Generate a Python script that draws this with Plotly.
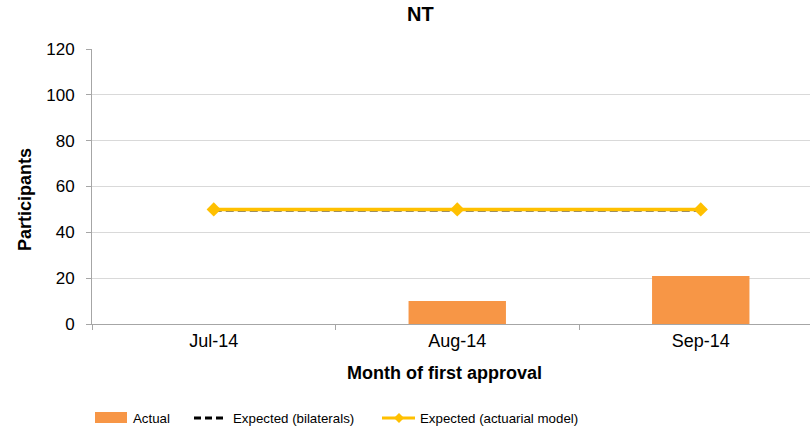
import plotly.graph_objects as go

# ---- data ----
months = ["Jul-14", "Aug-14", "Sep-14"]
actual = [0, 10, 21]
expected_bilaterals = [49.6, 49.6, 49.6]
expected_actuarial = [50, 50, 50]
y_ticks = [0, 20, 40, 60, 80, 100, 120]

# ---- layout geometry (pixels) ----
W, H = 810, 435
L, R, T, B = 92, 0, 49, 111
PW, PH = W - L - R, H - T - B
CAT_PX = 243.5  # width of one category band

FONT = "Liberation Sans, Arial, sans-serif"
ORANGE = "#F79646"
GOLD = "#FFC000"
AXIS_GREY = "#a6a6a6"
GRID_GREY = "#d9d9d9"


def px(x):
    return (x - L) / PW


def py(y):
    return (H - B - y) / PH


fig = go.Figure()

fig.add_trace(go.Bar(
    x=months, y=actual, name="Actual",
    marker=dict(color=ORANGE, line=dict(width=0)),
    width=0.4,
))
fig.add_trace(go.Scatter(
    x=months, y=expected_bilaterals, name="Expected (bilaterals)",
    mode="lines", line=dict(color="black", width=2.5, dash="8px,4px"),
))
fig.add_trace(go.Scatter(
    x=months, y=expected_actuarial, name="Expected (actuarial model)",
    mode="lines+markers",
    line=dict(color=GOLD, width=3.5),
    marker=dict(symbol="diamond", size=11, color=GOLD),
))

annotations = [
    dict(text="<b>NT</b>", x=px(420), y=py(14), xref="paper", yref="paper",
         showarrow=False, font=dict(size=20, color="black", family=FONT),
         xanchor="center", yanchor="middle"),
    dict(text="<b>Month of first approval</b>", x=px(444), y=py(373),
         xref="paper", yref="paper", showarrow=False,
         font=dict(size=18, color="black", family=FONT),
         xanchor="center", yanchor="middle"),
    dict(text="<b>Participants</b>", x=px(25), y=py(200),
         xref="paper", yref="paper", showarrow=False, textangle=-90,
         font=dict(size=18, color="black", family=FONT),
         xanchor="center", yanchor="middle"),
]

# ---- legend drawn along the bottom ----
LEG_Y = 418
legend_font = dict(size=13.3, color="black", family=FONT)
shapes = [
    dict(type="rect", xref="paper", yref="paper",
         x0=px(95), x1=px(127), y0=py(412), y1=py(423),
         fillcolor=ORANGE, line=dict(width=0)),
    dict(type="line", xref="paper", yref="paper",
         x0=px(194), x1=px(224), y0=py(LEG_Y), y1=py(LEG_Y),
         line=dict(color="black", width=3, dash="7px,4px")),
    dict(type="line", xref="paper", yref="paper",
         x0=px(382), x1=px(415), y0=py(LEG_Y), y1=py(LEG_Y),
         line=dict(color=GOLD, width=3)),
]
cx, cy, d = 399, LEG_Y, 5
shapes.append(dict(
    type="path", xref="paper", yref="paper",
    path=(f"M {px(cx - d)},{py(cy)} L {px(cx)},{py(cy - d)} "
          f"L {px(cx + d)},{py(cy)} L {px(cx)},{py(cy + d)} Z"),
    fillcolor=GOLD, line=dict(width=0),
))
for label, x0 in [("Actual", 131), ("Expected (bilaterals)", 231),
                  ("Expected (actuarial model)", 418)]:
    annotations.append(dict(
        text=label, x=px(x0), y=py(LEG_Y), xref="paper", yref="paper",
        showarrow=False, font=legend_font, xanchor="left", yanchor="middle",
    ))

fig.update_layout(
    width=W, height=H,
    margin=dict(l=L, r=R, t=T, b=B, pad=0),
    paper_bgcolor="white", plot_bgcolor="white",
    showlegend=False,
    font=dict(family=FONT, color="black"),
    annotations=annotations,
    shapes=shapes,
    bargap=0.6,
)
fig.update_xaxes(
    type="category", range=[-0.5, -0.5 + PW / CAT_PX],
    showline=True, linecolor=AXIS_GREY, linewidth=1,
    ticks="outside", tickson="boundaries", ticklen=5, tickcolor=AXIS_GREY,
    tickfont=dict(size=18, family=FONT, color="black"),
    showgrid=False, zeroline=False,
)
fig.update_yaxes(
    range=[0, 120], tickvals=y_ticks,
    showline=True, linecolor=AXIS_GREY, linewidth=1,
    ticks="outside", ticklen=5, tickcolor=AXIS_GREY, ticklabelstandoff=8,
    tickfont=dict(size=17, family=FONT, color="black"),
    showgrid=True, gridcolor=GRID_GREY, gridwidth=1,
    zeroline=False,
)

fig.write_html("out.html")
